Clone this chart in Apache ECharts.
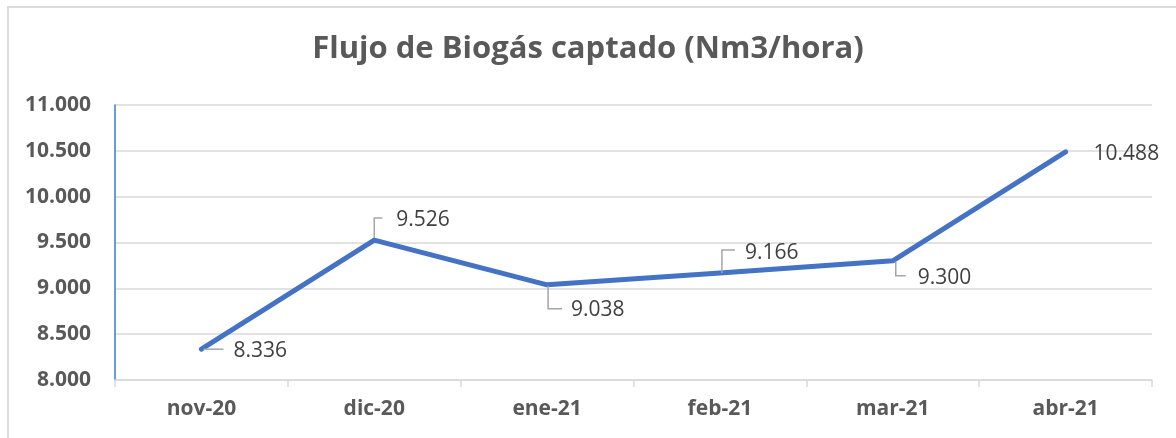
<!DOCTYPE html>
<html>
<head>
<meta charset="utf-8">
<script src="https://cdn.jsdelivr.net/npm/echarts@6/dist/echarts.min.js"></script>
<style>
  html, body { margin: 0; padding: 0; background: #ffffff; overflow: hidden; }
  #frame { position: absolute; left: 7px; top: 6px; width: 1300px; height: 600px;
           border-left: 2px solid #dcdcdc; border-top: 2px solid #dcdcdc; }
  #chart { position: absolute; left: 0; top: 0; width: 1176px; height: 438px; }
</style>
</head>
<body>
<div id="frame"></div>
<div id="chart"></div>
<script>
// ---- data ----
const titleText = 'Flujo de Biogás captado (Nm3/hora)';
const categories = ['nov-20', 'dic-20', 'ene-21', 'feb-21', 'mar-21', 'abr-21'];
const flujo = [8336, 9526, 9038, 9166, 9300, 10488];
const yMin = 8000, yMax = 11000, yStep = 500;

// ---- label leader styles (relative offsets, style only) ----
const leaders = [
  { kind: 'side', dx0: 2, dy0: 0, len: 20, tx: 32, ty: 2 },
  { kind: 'up',   dx0: 0, dy0: -2, vlen: 20, hlen: 8, tx: 22, ty: -20 },
  { kind: 'down', dx0: 1, dy0: 1, vlen: 23, hlen: 14, tx: 24, ty: 25 },
  { kind: 'up',   dx0: 2, dy0: 0, vlen: 23, hlen: 13, tx: 25, ty: -20 },
  { kind: 'down', dx0: 3, dy0: 1, vlen: 14, hlen: 10, tx: 25, ty: 17 },
  { kind: 'none', tx: 28, ty: 2 }
];

function fmt(v) {
  return String(v).replace(/\B(?=(\d{3})+(?!\d))/g, '.');
}

const chart = echarts.init(document.getElementById('chart'), null, { renderer: 'canvas' });

const option = {
  backgroundColor: 'transparent',
  animation: false,
  title: {
    text: titleText,
    left: 'center',
    top: 29,
    textStyle: { fontFamily: 'Open Sans', fontWeight: 'bold', fontSize: 31, color: '#595959' }
  },
  grid: { left: 115, right: 24, top: 105, bottom: 58, containLabel: false },
  xAxis: {
    type: 'category',
    data: categories,
    boundaryGap: true,
    axisLine: { show: true, lineStyle: { color: '#d9d9d9', width: 1.5 } },
    axisTick: { show: true, interval: 0, length: 7, lineStyle: { color: '#d9d9d9', width: 1.5 } },
    axisLabel: { interval: 0, margin: 19, fontFamily: 'Open Sans', fontWeight: 'bold', fontSize: 21, color: '#595959' },
    splitLine: { show: false }
  },
  yAxis: {
    type: 'value',
    min: yMin, max: yMax, interval: yStep,
    axisLine: { show: true, lineStyle: { color: '#3d7cc9', width: 1.5 } },
    axisTick: { show: false },
    axisLabel: { margin: 24, fontFamily: 'Open Sans', fontWeight: 'bold', fontSize: 21, color: '#595959',
                 formatter: v => fmt(v) },
    splitLine: { show: true, lineStyle: { color: '#d9d9d9', width: 1.5 } }
  },
  series: [
    {
      type: 'line',
      data: flujo,
      symbol: 'none',
      lineStyle: { color: '#4472c4', width: 5, cap: 'round', join: 'round' },
      z: 3
    },
    {
      type: 'custom',
      data: flujo.map((v, i) => [i, v]),
      encode: { x: 0, y: 1 },
      z: 4,
      silent: true,
      renderItem: function (params, api) {
        const i = api.value(0);
        const v = api.value(1);
        const p = api.coord([i, v]);
        const L = leaders[i];
        const children = [];
        if (L.kind === 'side') {
          const x0 = p[0] + L.dx0, y0 = p[1] + L.dy0;
          children.push({ type: 'polyline', shape: { points: [[x0, y0], [x0 + L.len, y0]] },
                          style: { stroke: '#a6a6a6', lineWidth: 1.5, fill: null } });
        } else if (L.kind === 'up' || L.kind === 'down') {
          const s = L.kind === 'up' ? -1 : 1;
          const x0 = p[0] + L.dx0, y0 = p[1] + L.dy0;
          const y1 = y0 + s * L.vlen;
          children.push({ type: 'polyline', shape: { points: [[x0, y0], [x0, y1], [x0 + L.hlen, y1]] },
                          style: { stroke: '#a6a6a6', lineWidth: 1.5, fill: null } });
        }
        children.push({
          type: 'text',
          x: p[0] + L.tx, y: p[1] + L.ty,
          style: { text: fmt(v), fontFamily: 'Open Sans', fontSize: 21, fill: '#404040',
                   align: 'left', verticalAlign: 'middle' }
        });
        return { type: 'group', children: children };
      }
    }
  ]
};
chart.setOption(option);
</script>
</body>
</html>
